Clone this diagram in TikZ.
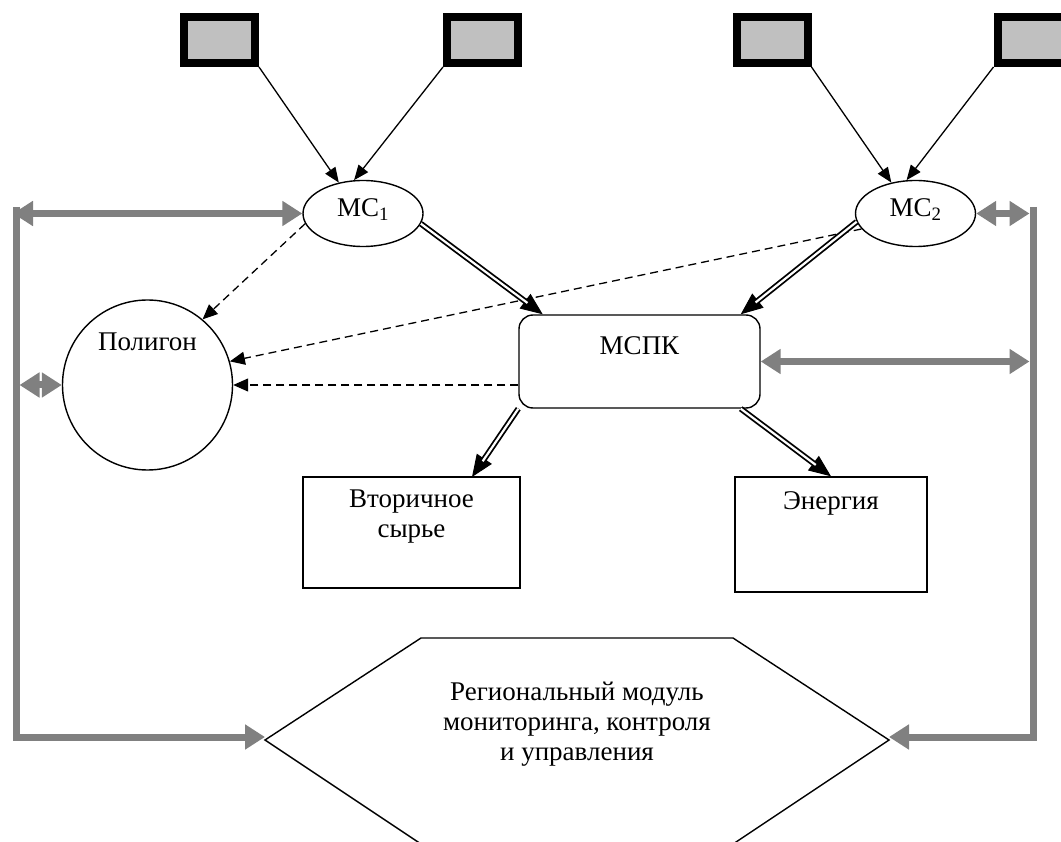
\documentclass[tikz,border=0pt]{standalone}
\usepackage{fontspec}
\setmainfont{Liberation Serif}
\usetikzlibrary{arrows.meta,shapes.geometric,calc}
\definecolor{arrgray}{RGB}{128,128,128}
\definecolor{srcgray}{RGB}{192,192,192}
\begin{document}
\begin{tikzpicture}[x=1pt,y=-1pt,
  every node/.style={font=\fontsize{27}{30}\selectfont},
  srcbox/.style={draw=black, line width=8pt, fill=srcgray, minimum width=71pt, minimum height=46pt, inner sep=0pt, outer sep=4pt},
  mcnode/.style={ellipse, draw, line width=1.4pt, minimum width=120pt, minimum height=66pt, inner sep=0pt},
  thinbox/.style={draw, line width=1.4pt, inner sep=0pt},
  lbl/.style={inner sep=0pt, align=center},
  garr/.style={draw=arrgray, line width=7pt, line join=miter},
  gtip/.tip={Triangle[length=20pt,width=24pt]},
  thinarr/.style={line width=1.3pt, -{Triangle[length=15pt,width=12pt]}},
  dsharr/.style={line width=1.3pt, dash pattern=on 8pt off 5pt, -{Triangle[length=15pt,width=13pt]}},
  dblhead/.style={line width=1pt, -{Triangle[length=22pt,width=18pt]}},
  dblline/.style={line width=1.8pt, double=white, double distance=2.2pt, shorten >=19pt}
]
\useasboundingbox (0,0) rectangle (1061,842);
\clip (0,0) rectangle (1061,842);

% source boxes
\node[srcbox] (s1) at (219.5,40) {};
\node[srcbox] (s2) at (482.5,40) {};
\node[srcbox] (s3) at (772,40) {};
\node[srcbox] (s4) at (1033,40) {};

% MC nodes
\node[mcnode] (mc1) at (363,213.5) {};
\node[lbl] (mc1t) at (363,210) {МС\textsubscript{1}};
\node[mcnode] (mc2) at (915.5,213.5) {};
\node[lbl] (mc2t) at (915.5,210) {МС\textsubscript{2}};

% polygon circle
\node[circle, draw, line width=1.4pt, minimum size=170pt, inner sep=0pt] (poly) at (147.5,385) {};
\node[lbl] (polyt) at (147.5,342) {Полигон};

% MSPK
\node[draw, line width=1.4pt, rounded corners=14pt, minimum width=241pt, minimum height=93pt, inner sep=0pt] (mspk) at (639.5,361.5) {};
\node[lbl] (mspkt) at (639.5,346) {МСПК};

% output boxes
\node[thinbox, minimum width=217pt, minimum height=111pt] (vt) at (411.5,532.5) {};
\node[lbl] (vtt) at (411.5,517) {Вторичное\\сырье};
\node[thinbox, minimum width=192pt, minimum height=115pt] (en) at (831,534.5) {};
\node[lbl] (ent) at (831,503) {Энергия};

% hexagon
\coordinate (hexL) at (265,740);
\coordinate (hexR) at (889,740);
\draw[line width=1.4pt] (hexL) -- (421,638) -- (733,638) -- (hexR) -- (733,844) -- (421,844) -- cycle;
\node[lbl] (hext) at (577,724) {Региональный модуль\\мониторинга, контроля\\и управления};

% gray frame lines
\coordinate (lv) at (16,207);
\coordinate (lb) at (16,737);
\coordinate (rv) at (1033,207);
\coordinate (rb) at (1033,737);
\draw[garr, -{gtip}] (lv) -- (lb) -- (lb -| hexL);
\draw[garr, -{gtip}] (rv) -- (rb) -- (rb -| hexR);
\draw[garr, {gtip}-{gtip}, shorten <=-3pt] (mc1.west -| lv) -- (mc1.west);
\draw[garr, {gtip}-{gtip}, shorten <=3.5pt] (poly.west -| lv) -- (poly.west);
\draw[garr, {gtip}-{gtip}, shorten >=3.5pt] (mc2.east) -- (mc2.east -| rv);
\draw[garr, {gtip}-{gtip}, shorten >=3.5pt] (mspk.east) -- (mspk.east -| rv);

% thin arrows from sources
\draw[thinarr] (s1.south east) -- (mc1.128);
\draw[thinarr] (s2.south west) -- (mc1.105);
\draw[thinarr] (s3.south east) -- (mc2.128);
\draw[thinarr] (s4.south west) -- (mc2.105);

% dashed arrows
\draw[dsharr] (mc1.190) -- (poly.50);
\draw[dsharr] (mc2.196) -- (poly.16);
\draw[dsharr] (poly.east -| mspk.west) -- (poly.east);

% double-line arrows
\coordinate (vtin) at (472,477);
\draw[dblhead] (mc1.-10) -- (mspk.154);
\draw[dblline] (mc1.-10) -- (mspk.154);
\draw[dblhead] (mc2.188) -- (mspk.25);
\draw[dblline] (mc2.188) -- (mspk.25);
\draw[dblhead] (mspk.south west) -- (vtin);
\draw[dblline] (mspk.south west) -- (vtin);
\draw[dblhead] (mspk.-25) -- (en.north);
\draw[dblline] (mspk.-25) -- (en.north);
\end{tikzpicture}
\end{document}
